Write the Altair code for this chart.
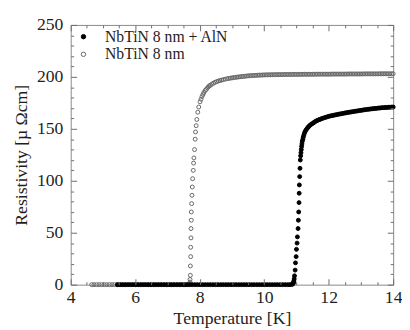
import altair as alt
import pandas as pd

series_names = ["NbTiN 8 nm + AlN", "NbTiN 8 nm"]

# NbTiN 8 nm (open gray circles)
gray_T = [4.65, 4.72, 4.80, 4.88, 4.96, 5.04, 5.12, 5.20, 5.28, 5.36, 5.44, 5.52,
          5.60, 5.70, 5.80, 5.90, 6.00, 6.10, 6.20, 6.30, 6.40, 6.50, 6.60, 6.70,
          6.80, 6.90, 7.00, 7.10, 7.20, 7.30, 7.40, 7.50, 7.58, 7.64,
          7.68, 7.69, 7.70, 7.70, 7.71, 7.71, 7.72, 7.72, 7.73, 7.73, 7.74, 7.74,
          7.75, 7.76, 7.77, 7.78, 7.80, 7.81, 7.82, 7.84, 7.86, 7.87, 7.89, 7.91,
          7.94, 7.97, 8.01, 8.04, 8.07, 8.10, 8.13, 8.17, 8.20, 8.24, 8.27, 8.30,
          8.33, 8.38, 8.43, 8.48, 8.53, 8.58, 8.63, 8.68, 8.73, 8.79, 8.85, 8.90,
          8.95, 9.00, 9.05, 9.10, 9.15, 9.20, 9.25, 9.30, 9.35, 9.40, 9.45, 9.50,
          9.55, 9.60, 9.65, 9.70, 9.75, 9.80, 9.85, 9.90, 9.95, 10.00, 10.05, 10.10,
          10.15, 10.20, 10.25, 10.30, 10.35, 10.40, 10.45, 10.50, 10.55, 10.60, 10.65,
          10.70, 10.75, 10.80, 10.85, 10.90, 10.95, 11.00, 11.05, 11.10, 11.15, 11.20,
          11.25, 11.30, 11.35, 11.40, 11.45, 11.50, 11.55, 11.60, 11.65, 11.70, 11.75,
          11.80, 11.85, 11.90, 11.95, 12.00, 12.05, 12.10, 12.15, 12.20, 12.25, 12.30,
          12.35, 12.40, 12.45, 12.50, 12.55, 12.60, 12.65, 12.70, 12.75, 12.80, 12.85,
          12.90, 12.95, 13.00, 13.05, 13.10, 13.15, 13.20, 13.25, 13.30, 13.35, 13.40,
          13.45, 13.50, 13.55, 13.60, 13.65, 13.70, 13.75, 13.80, 13.85, 13.90, 13.95,
          14.00]
gray_R = [0, 0, 0, 0, 0, 0, 0, 0, 0, 0, 0, 0,
          0, 0, 0, 0, 0, 0, 0, 0, 0, 0, 0, 0,
          0, 0, 0, 0, 0, 0, 0, 0, 0, 0,
          0.3, 1, 2.5, 5, 9, 18, 27, 36, 45, 54, 62, 70,
          78, 86, 94, 102, 110, 117, 122, 130, 140, 147, 153, 159,
          166, 171, 176, 178.5, 181, 183, 185, 186.8, 188, 189.4, 190.5, 191.3,
          192, 193, 194, 194.8, 195.5, 196, 196.5, 196.9, 197.3, 197.8, 198.2, 198.5,
          198.8, 199, 199.3, 199.5, 199.7, 199.9, 200.1, 200.3, 200.4, 200.6, 200.8, 201,
          201.1, 201.2, 201.3, 201.4, 201.5, 201.6, 201.7, 201.7, 201.8, 201.9, 201.9, 202,
          202, 202, 202.1, 202.1, 202.1, 202.2, 202.2, 202.2, 202.2, 202.3, 202.3,
          202.3, 202.3, 202.3, 202.4, 202.4, 202.4, 202.4, 202.4, 202.4, 202.4, 202.5,
          202.5, 202.5, 202.5, 202.5, 202.5, 202.5, 202.5, 202.6, 202.6, 202.6, 202.6,
          202.6, 202.6, 202.6, 202.6, 202.6, 202.6, 202.7, 202.7, 202.7, 202.7, 202.7,
          202.7, 202.7, 202.7, 202.7, 202.7, 202.8, 202.8, 202.8, 202.8, 202.8, 202.8,
          202.8, 202.8, 202.8, 202.8, 202.9, 202.9, 202.9, 202.9, 202.9, 202.9, 202.9,
          202.9, 202.9, 202.9, 203, 203, 203, 203, 203, 203, 203, 203,
          203]

# NbTiN 8 nm + AlN (filled black dots)
black_T = [5.45, 5.53, 5.61, 5.69, 5.77, 5.85, 5.93, 6.01, 6.09, 6.17, 6.25, 6.33,
           6.41, 6.49, 6.57, 6.65, 6.73, 6.81, 6.89, 6.97, 7.05, 7.13, 7.21, 7.29,
           7.37, 7.45, 7.53, 7.61, 7.69, 7.77, 7.85, 7.93, 8.01, 8.09, 8.17, 8.25,
           8.33, 8.41, 8.49, 8.57, 8.65, 8.73, 8.81, 8.89, 8.97, 9.05, 9.13, 9.21,
           9.29, 9.37, 9.45, 9.53, 9.61, 9.69, 9.77, 9.85, 9.93, 10.01, 10.09, 10.17,
           10.25, 10.33, 10.41, 10.49, 10.57, 10.65, 10.73, 10.80,
           10.86, 10.88, 10.90, 10.91, 10.92, 10.93, 10.94, 10.96, 10.97, 10.99, 11.00,
           11.02, 11.03, 11.05, 11.06, 11.07, 11.08, 11.085, 11.09, 11.10, 11.11, 11.12,
           11.13, 11.14, 11.15, 11.16, 11.17, 11.18, 11.20, 11.21, 11.23, 11.25, 11.27,
           11.30, 11.33, 11.36, 11.39, 11.42, 11.46, 11.49, 11.53, 11.56, 11.60, 11.64,
           11.68, 11.72, 11.76, 11.80, 11.85, 11.90, 11.95, 12.00, 12.05, 12.10, 12.15,
           12.20, 12.25, 12.30, 12.35, 12.40, 12.45, 12.50, 12.55, 12.60, 12.65, 12.70,
           12.75, 12.80, 12.85, 12.90, 12.95, 13.00, 13.05, 13.10, 13.15, 13.20, 13.25,
           13.30, 13.35, 13.40, 13.45, 13.50, 13.55, 13.60, 13.65, 13.70, 13.75, 13.80,
           13.85, 13.90, 13.95, 14.00]
black_R = [0, 0, 0, 0, 0, 0, 0, 0, 0, 0, 0, 0,
           0, 0, 0, 0, 0, 0, 0, 0, 0, 0, 0, 0,
           0, 0, 0, 0, 0, 0, 0, 0, 0, 0, 0, 0,
           0, 0, 0, 0, 0, 0, 0, 0, 0, 0, 0, 0,
           0, 0, 0, 0, 0, 0, 0, 0, 0, 0, 0, 0,
           0, 0, 0, 0, 0, 0, 0, 0,
           0.3, 0.6, 1.2, 2.2, 3.5, 5.5, 8.5, 14, 21, 27, 34,
           40, 46, 54, 62, 70, 79, 88, 96, 104, 112, 120,
           124, 127, 130, 133, 135.5, 138, 140, 142, 144, 146, 147.5,
           149, 150.3, 151.5, 152.5, 153.5, 154.4, 155, 155.8, 156.5, 157.3, 158,
           158.5, 159, 159.5, 160, 160.5, 161, 161.5, 162, 162.4, 162.7, 163,
           163.4, 163.7, 164, 164.3, 164.6, 164.9, 165.2, 165.5, 165.8, 166, 166.3,
           166.5, 166.8, 167, 167.3, 167.5, 167.8, 168, 168.3, 168.5, 168.7, 168.9,
           169.1, 169.3, 169.5, 169.6, 169.8, 170, 170.1, 170.3, 170.4, 170.5, 170.6,
           170.7, 170.8, 170.9, 171]

x_major = [4, 6, 8, 10, 12, 14]
x_minor = [4.5, 5, 5.5, 6.5, 7, 7.5, 8.5, 9, 9.5, 10.5, 11, 11.5, 12.5, 13, 13.5]
y_major = [0, 50, 100, 150, 200, 250]
y_minor = [10, 20, 30, 40, 60, 70, 80, 90, 110, 120, 130, 140, 160, 170, 180, 190,
           210, 220, 230, 240]

df = pd.concat([
    pd.DataFrame({"T": gray_T, "R": gray_R, "s": series_names[1]}),
    pd.DataFrame({"T": black_T, "R": black_R, "s": series_names[0]}),
], ignore_index=True)

FONT = "Liberation Serif"
TICK = "#6e6e6e"
TXT = "#1e1e1e"

base_ax = dict(domain=False, grid=False, ticks=True, tickColor=TICK, tickWidth=1,
               labelFlush=False, labelOverlap=False, zindex=1)
lab = dict(labelFont=FONT, labelFontSize=18, labelColor=TXT, format="d",
           titleFont=FONT, titleFontSize=18, titleFontWeight="normal", titleColor=TXT)


def tick_axis(orient, values, size):
    # inward ticks: the axis line sits `size` px inside the frame, ticks run out to it
    return alt.Axis(orient=orient, values=values, tickSize=size, offset=-size,
                    labels=False, title=None, **base_ax)


x_bottom = alt.Axis(orient="bottom", values=x_major, title="Temperature [K]",
                    tickSize=6, offset=-6, labelPadding=4, titlePadding=4,
                    **base_ax, **lab)
y_left = alt.Axis(orient="left", values=y_major, title="Resistivity [\u00b5 \u03a9cm]",
                  tickSize=6, offset=-6, labelPadding=8, titlePadding=6,
                  **base_ax, **lab)

legend = alt.Legend(orient="none", legendX=5, legendY=4, title=None,
                    labelFont=FONT, labelFontSize=16, labelColor=TXT,
                    symbolSize=20, symbolStrokeWidth=1, symbolType="circle",
                    rowPadding=2, labelOffset=14, padding=0)

points = alt.Chart(df).mark_point(shape="circle", size=16, strokeWidth=1, opacity=1).encode(
    x=alt.X("T:Q", scale=alt.Scale(domain=[4, 14], nice=False, zero=False), axis=x_bottom),
    y=alt.Y("R:Q", scale=alt.Scale(domain=[0, 250], nice=False), axis=y_left),
    fill=alt.Fill("s:N", scale=alt.Scale(domain=series_names, range=["#000000", "transparent"]),
                  legend=legend),
    stroke=alt.Stroke("s:N", scale=alt.Scale(domain=series_names, range=["#000000", "#666666"]),
                      legend=legend),
)


def tick_layer(xo, xv, yo, yv, size):
    return alt.Chart(df).mark_point(opacity=0).encode(
        x=alt.X("T:Q", axis=tick_axis(xo, xv, size)),
        y=alt.Y("R:Q", axis=tick_axis(yo, yv, size)),
    )


chart = alt.layer(
    points,
    tick_layer("top", x_major, "right", y_major, 6),
    tick_layer("bottom", x_minor, "left", y_minor, 3),
    tick_layer("top", x_minor, "right", y_minor, 3),
).resolve_axis(
    x="independent", y="independent"
).properties(
    width=329, height=265,
    padding={"left": 5, "top": 5, "right": 0, "bottom": 0},
).configure_view(stroke="#888888", strokeWidth=1)

chart.save("out.html", embed_options={"renderer": "svg", "actions": False})
